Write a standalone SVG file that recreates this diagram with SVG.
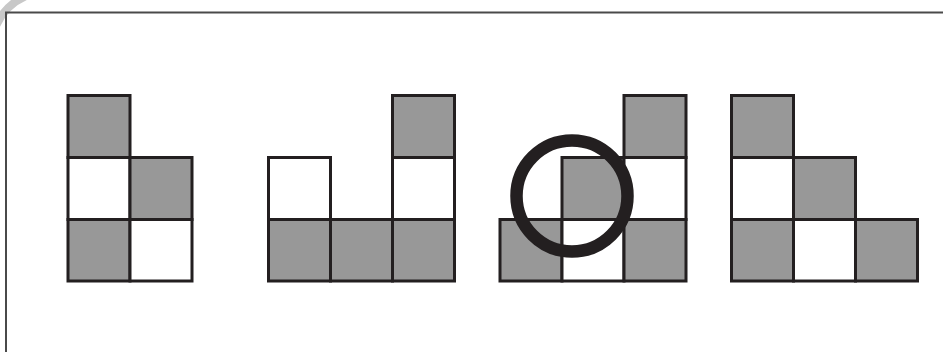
<svg xmlns="http://www.w3.org/2000/svg" width="943" height="352" viewBox="0 0 943 352">
<style>
.g{fill:#989898;stroke:#231f20;stroke-width:3}
.w{fill:#ffffff;stroke:#231f20;stroke-width:3}
.frame{fill:none;stroke:#4a4a4a;stroke-width:2}
</style>
<rect width="943" height="352" fill="#ffffff"/>
<path d="M -4 26 A 57 57 0 0 1 26 -4" fill="none" stroke="#c8c8c8" stroke-width="8"/>
<path class="frame" d="M 6 352 V 12.5 H 943"/>
<g id="fig1">
<rect class="g" x="68" y="95.5" width="62" height="62"/>
<rect class="w" x="68" y="157.5" width="62" height="62"/>
<rect class="g" x="130" y="157.5" width="62" height="62"/>
<rect class="g" x="68" y="219.5" width="62" height="61.5"/>
<rect class="w" x="130" y="219.5" width="62" height="61.5"/>
</g>
<g id="fig2">
<rect class="w" x="268.5" y="157.5" width="62" height="62"/>
<rect class="g" x="268.5" y="219.5" width="62" height="61.5"/>
<rect class="g" x="330.5" y="219.5" width="62" height="61.5"/>
<rect class="g" x="392.5" y="95.5" width="62" height="62"/>
<rect class="w" x="392.5" y="157.5" width="62" height="62"/>
<rect class="g" x="392.5" y="219.5" width="62" height="61.5"/>
</g>
<g id="fig3">
<rect class="g" x="500" y="219.5" width="62" height="61.5"/>
<rect class="g" x="562" y="157.5" width="62" height="62"/>
<rect class="w" x="562" y="219.5" width="62" height="61.5"/>
<rect class="g" x="624" y="95.5" width="62" height="62"/>
<rect class="w" x="624" y="157.5" width="62" height="62"/>
<rect class="g" x="624" y="219.5" width="62" height="61.5"/>
<circle cx="572" cy="196" r="55.5" fill="none" stroke="#231f20" stroke-width="12.5"/>
</g>
<g id="fig4">
<rect class="g" x="731.5" y="95.5" width="62" height="62"/>
<rect class="w" x="731.5" y="157.5" width="62" height="62"/>
<rect class="g" x="731.5" y="219.5" width="62" height="61.5"/>
<rect class="g" x="793.5" y="157.5" width="62" height="62"/>
<rect class="w" x="793.5" y="219.5" width="62" height="61.5"/>
<rect class="g" x="855.5" y="219.5" width="62" height="61.5"/>
</g>
</svg>
